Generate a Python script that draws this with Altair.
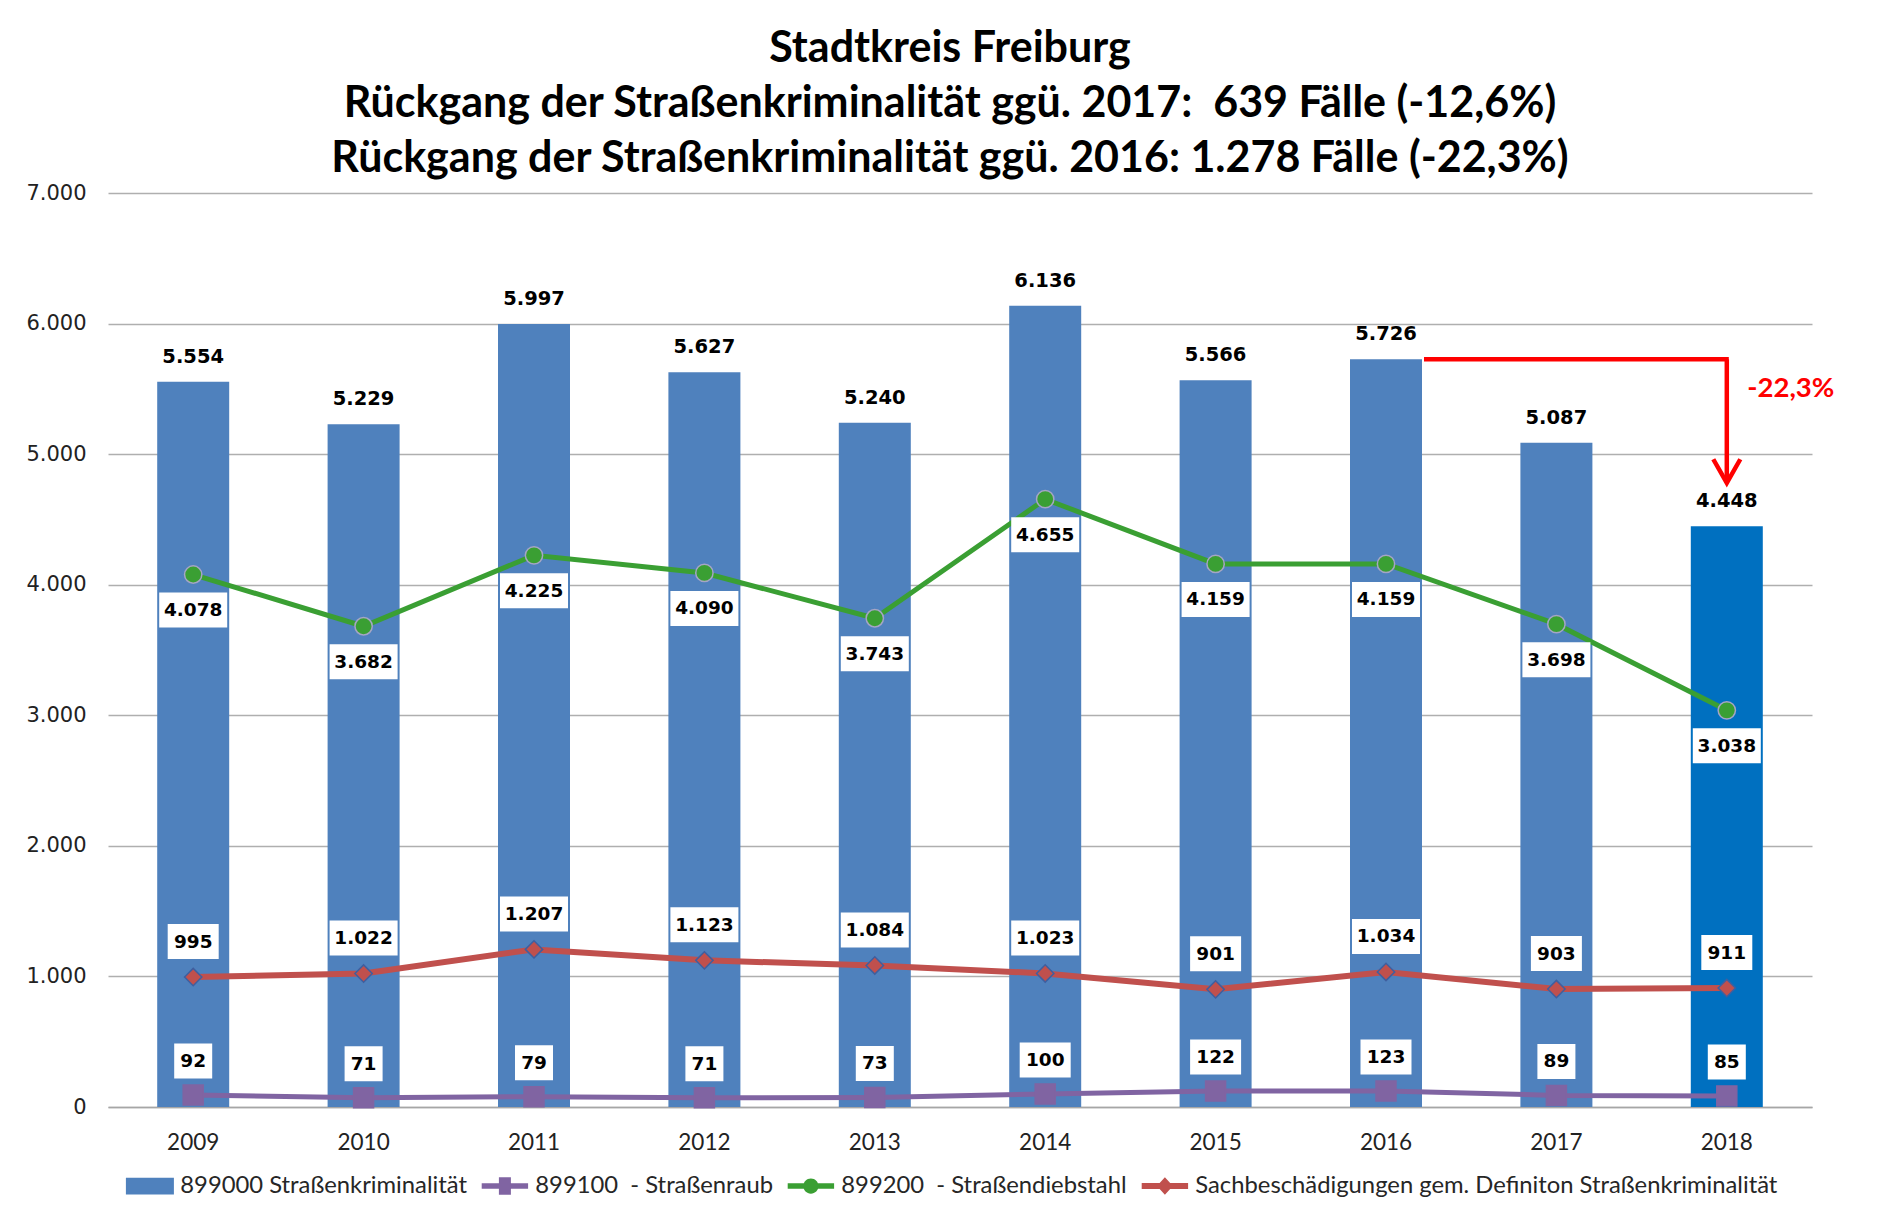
import altair as alt
import pandas as pd

# ---------------- data ----------------
years = [2009, 2010, 2011, 2012, 2013, 2014, 2015, 2016, 2017, 2018]
strassenkriminalitaet = [5554, 5229, 5997, 5627, 5240, 6136, 5566, 5726, 5087, 4448]
strassenraub = [92, 71, 79, 71, 73, 100, 122, 123, 89, 85]
strassendiebstahl = [4078, 3682, 4225, 4090, 3743, 4655, 4159, 4159, 3698, 3038]
sachbeschaedigungen = [995, 1022, 1207, 1123, 1084, 1023, 901, 1034, 903, 911]

series_names = [
    "899000 Straßenkriminalität",
    "899100\u00a0 - Straßenraub",
    "899200\u00a0 - Straßendiebstahl",
    "Sachbeschädigungen gem. Definiton Straßenkriminalität",
]
title_lines = [
    "Stadtkreis Freiburg",
    "Rückgang der Straßenkriminalität ggü. 2017:\u00a0 639 Fälle (-12,6%)",
    "Rückgang der Straßenkriminalität ggü. 2016: 1.278 Fälle (-22,3%)",
]
highlight_year = 2018
arrow_from_year = 2016
arrow_to_year = 2018
arrow_tip_value = 4780
arrow_label = "-22,3%"
y_ticks = [0, 1000, 2000, 3000, 4000, 5000, 6000, 7000]


def de(n):
    return f"{n:,}".replace(",", ".")


BAR_BLUE = "#4F81BD"
HIGHLIGHT_BLUE = "#0070C0"
PURPLE = "#8064A2"
GREEN = "#3A9F33"
RED = "#C0504D"
NUM_FONT = "DejaVu Sans"
TXT_FONT = "Lato"

bar_df = pd.DataFrame({
    "year": years,
    "value": strassenkriminalitaet,
    "label": [de(v) for v in strassenkriminalitaet],
})

x_enc = alt.X(
    "year:O",
    title=None,
    scale=alt.Scale(paddingInner=0, paddingOuter=0),
    axis=alt.Axis(
        labelAngle=0, labelFont=TXT_FONT, labelFontSize=22.5, labelColor="#222222",
        labelPadding=24, ticks=False, domain=True, domainColor="#A6A6A6",
        domainWidth=1.5, grid=False,
    ),
)
y_enc = alt.Y(
    "value:Q",
    title=None,
    scale=alt.Scale(domain=[0, 7000], nice=False),
    axis=alt.Axis(
        values=y_ticks, labelExpr="replace(format(datum.value, ','), ',', '.')",
        labelFont=NUM_FONT, labelFontSize=21, labelColor="#222222",
        labelPadding=22, ticks=False, domain=False,
        gridColor="#AFAFAF", gridWidth=1.5,
    ),
)

bars = alt.Chart(bar_df).mark_bar(size=72).encode(
    x=x_enc,
    y=y_enc,
    color=alt.condition(alt.datum.year == highlight_year,
                        alt.value(HIGHLIGHT_BLUE), alt.value(BAR_BLUE)),
)
bar_text = alt.Chart(bar_df).mark_text(
    font=NUM_FONT, fontWeight="bold", fontSize=19.5, color="black",
    baseline="alphabetic", dy=-19,
).encode(x="year:O", y="value:Q", text="label:N")

layers = [bars, bar_text]

# line series: (values, color, marker shape, marker size, marker outline, line width, label offset)
line_specs = [
    (strassenraub, PURPLE, "square", 400, PURPLE, 5, -34),
    (strassendiebstahl, GREEN, "circle", 300, "#A5A5C5", 5, 35.5),
    (sachbeschaedigungen, RED, "diamond", 300, "#3F5F9F", 6, -35.5),
]
box_width = {2: 38, 3: 51, 4: 60, 5: 68}
BOX_H = 35.0

line_layers, point_layers, box_layers, text_layers = [], [], [], []
for vals, col, shp, msize, mstroke, lw, off in line_specs:
    labels = [de(v) for v in vals]
    half = [box_width[len(s)] / 2 / (BOX_H / 2) for s in labels]
    df = pd.DataFrame({
        "year": years,
        "value": vals,
        "label": labels,
        "box": [f"M{-h:.3f},-1H{h:.3f}V1H{-h:.3f}Z" for h in half],
    })
    line_layers.append(
        alt.Chart(df).mark_line(color=col, strokeWidth=lw).encode(x="year:O", y="value:Q")
    )
    point_layers.append(
        alt.Chart(df).mark_point(shape=shp, filled=True, size=msize, fill=col,
                                 stroke=mstroke, strokeWidth=1.5, opacity=1)
        .encode(x="year:O", y="value:Q")
    )
    box_layers.append(
        alt.Chart(df).mark_point(filled=True, fill="white", strokeWidth=0,
                                 size=BOX_H * BOX_H, opacity=1, yOffset=off)
        .encode(x="year:O", y="value:Q", shape=alt.Shape("box:N", scale=None))
    )
    text_layers.append(
        alt.Chart(df).mark_text(font=NUM_FONT, fontWeight="bold", fontSize=18.5,
                                color="black", baseline="middle", yOffset=off)
        .encode(x="year:O", y="value:Q", text="label:N")
    )

layers += line_layers + point_layers + box_layers + text_layers

# arrow annotation
arrow_df = pd.DataFrame({
    "x1": [arrow_from_year],
    "x2": [arrow_to_year],
    "level": [strassenkriminalitaet[years.index(arrow_from_year)]],
    "tip": [arrow_tip_value],
    "label": [arrow_label],
})
arrow_h = alt.Chart(arrow_df).mark_rule(color="#FF0000", strokeWidth=4.5, xOffset=38, x2Offset=2).encode(
    x="x1:O", x2="x2:O", y="level:Q")
arrow_v = alt.Chart(arrow_df).mark_rule(color="#FF0000", strokeWidth=4.5).encode(
    x="x2:O", y="level:Q", y2="tip:Q")
arrow_head = alt.Chart(arrow_df).mark_point(
    shape="M-1,-1.75L0,0L1,-1.75", filled=False, size=729, color="#FF0000",
    strokeWidth=4.5, opacity=1).encode(x="x2:O", y="tip:Q")
arrow_text = alt.Chart(arrow_df).mark_text(
    font=TXT_FONT, fontWeight="bold", fontSize=27.5, color="#FF0000",
    baseline="middle", dx=64, dy=30).encode(x="x2:O", y="level:Q", text="label:N")
layers += [arrow_h, arrow_v, arrow_head, arrow_text]

# legend (custom symbols: bar box, line+marker)
legend_paths = [
    "M-3,-1.05H3V1.05H-3Z",
    "M-2.9,-0.35H2.9V0.35H-2.9Z M-0.75,-1.1H0.75V1.1H-0.75Z",
    "M-2.9,-0.35H2.9V0.35H-2.9Z M-0.95,0A0.95,0.95 0 1,1 0.95,0A0.95,0.95 0 1,1 -0.95,0Z",
    "M-2.9,-0.38H2.9V0.38H-2.9Z M0,-1.1L1,0L0,1.1L-1,0Z",
]
leg = alt.Legend(
    orient="none", legendX=30, legendY=981, direction="horizontal", columns=4,
    title=None, labelFont=TXT_FONT, labelFontSize=23.8, labelColor="#262626",
    labelLimit=1000, symbolSize=256, symbolStrokeWidth=0, labelOffset=18.5,
    columnPadding=14, padding=0, symbolOpacity=1,
)
legend_df = pd.DataFrame({"series": series_names})
legend_layer = alt.Chart(legend_df).transform_filter("false").mark_point(filled=True, opacity=1).encode(
    color=alt.Color("series:N", scale=alt.Scale(domain=series_names,
                    range=[BAR_BLUE, PURPLE, GREEN, RED]), legend=leg),
    shape=alt.Shape("series:N", scale=alt.Scale(domain=series_names, range=legend_paths), legend=leg),
)
layers.append(legend_layer)

chart = alt.layer(*layers).properties(
    width=1704,
    height=914,
    autosize=alt.AutoSizeParams(type="none"),
    padding={"left": 100, "top": 185, "right": 60, "bottom": 100},
    title=alt.TitleParams(
        text=title_lines, font=TXT_FONT, fontSize=43, fontWeight="bold",
        color="black", lineHeight=55, anchor="middle", baseline="bottom",
        offset=-42, dx=-10,
    ),
).configure_view(stroke=None)

chart.save("out.html", embed_options={"renderer": "svg", "actions": False})
